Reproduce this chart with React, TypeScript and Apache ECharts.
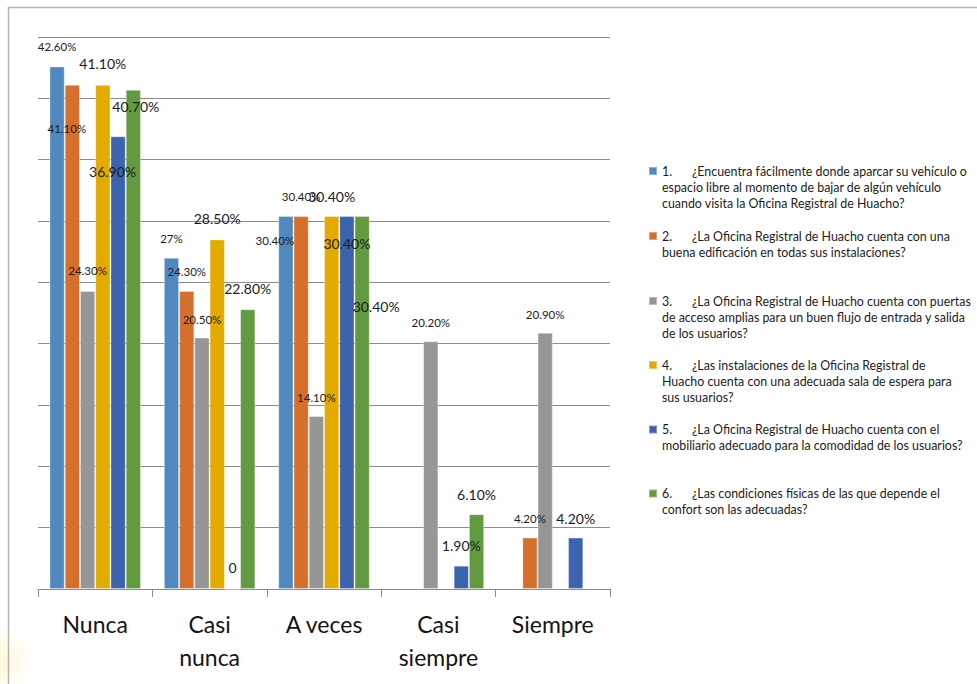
import React, { useEffect, useRef } from "react";
import * as echarts from "echarts";

// Response categories (x axis)
const categories = ["Nunca", "Casi\nnunca", "A veces", "Casi\nsiempre", "Siempre"];

// Percentage of answers per question and category (null = no bar)
const q1 = [42.6, 27, 30.4, null, null];
const q2 = [41.1, 24.3, 30.4, null, 4.2];
const q3 = [24.3, 20.5, 14.1, 20.2, 20.9];
const q4 = [41.1, 28.5, 30.4, null, null];
const q5 = [36.9, 0, 30.4, 1.9, 4.2];
const q6 = [40.7, 22.8, 30.4, 6.1, null];
const seriesValues = [q1, q2, q3, q4, q5, q6];

// Survey questions, already broken into legend lines
const questions = [
  [
    "¿Encuentra fácilmente donde aparcar su vehículo o",
    "espacio libre al momento de bajar de algún vehículo",
    "cuando visita la Oficina Registral de Huacho?",
  ],
  [
    "¿La Oficina Registral de Huacho cuenta con una",
    "buena edificación en todas sus instalaciones?",
  ],
  [
    "¿La Oficina Registral de Huacho cuenta con puertas",
    "de acceso amplias para un buen flujo de entrada y salida",
    "de los usuarios?",
  ],
  [
    "¿Las instalaciones de la Oficina Registral de",
    "Huacho cuenta con una adecuada sala de espera para",
    "sus usuarios?",
  ],
  [
    "¿La Oficina Registral de Huacho cuenta con el",
    "mobiliario adecuado para la comodidad de los usuarios?",
  ],
  [
    "¿Las condiciones físicas de las que depende el",
    "confort son las adecuadas?",
  ],
];

// Y axis scale
const yMin = 0;
const yMax = 45;
const yStep = 5;

// ---- styling / layout ----
const colors = ["#4f89bf", "#d5702c", "#969696", "#e3aa00", "#3c63ae", "#629b3f"];
const FONT = "Lato, 'Open Sans', sans-serif";
const labelFontSizes = [11.5, 11.5, 11.5, 14, 14, 14];

// label centre offset [dx, dy] from the top-centre of each bar
const labelOffsets: number[][][] = [
  [[0, -20], [0, -19], [-11, 24.5], [0, -19], [0, -19]],
  [[-5.5, 43.5], [0, -19.5], [0, -20], [0, -19], [0, -18.5]],
  [[0, -20], [0, -18.5], [0, -19], [0, -19], [0, -18.5]],
  [[0, -21], [0, -20.5], [0, -20], [0, -20], [0, -20]],
  [[-5.5, 35.5], [0, -21], [0, 27], [0, -20], [0, -18.5]],
  [[2.5, 16.5], [0, -20.5], [14, 90], [0, -20], [0, -20]],
];

// centre y of the first text line of each legend entry
const legendLineY = [171, 236, 301, 365, 429.5, 493.5];
const LEGEND_LH = 16;
const LEGEND_FS = 12.4;

const seriesName = (i: number) => `${i + 1}. ${questions[i].join(" ")}`;

const fmtPct = (v: number) =>
  v === 0 ? "0" : Number.isInteger(v) ? `${v}%` : `${v.toFixed(2)}%`;

export default function App() {
  const ref = useRef<HTMLDivElement>(null);

  useEffect(() => {
    if (!ref.current) return;
    const chart = echarts.init(ref.current, undefined, { renderer: "svg" });

    const series = seriesValues.map((vals, i) => ({
      name: seriesName(i),
      type: "bar",
      barGap: "0%",
      barCategoryGap: "20%",
      itemStyle: {
        color: colors[i],
        borderColor: "rgba(255,255,255,0.35)",
        borderWidth: 1,
      },
      label: {
        show: true,
        position: "top",
        distance: 0,
        align: "center",
        verticalAlign: "middle",
        fontFamily: FONT,
        fontSize: labelFontSizes[i],
        color: "#1c1c1c",
        formatter: (p: any) => fmtPct(p.value as number),
      },
      data: vals.map((v, j) =>
        v === null
          ? "-"
          : { value: v, label: { offset: labelOffsets[i][j] } }
      ),
    }));

    const legends = questions.map((lines, i) => {
      const n = lines.length;
      return {
        data: [seriesName(i)],
        left: 648,
        top: legendLineY[i] - ((2 * n - 1) * LEGEND_LH) / 2,
        orient: "vertical",
        padding: 0,
        icon: "rect",
        itemWidth: 8,
        itemHeight: 8,
        selectedMode: false,
        formatter: () => `{n|${i + 1}.}` + lines.join("\n"),
        textStyle: {
          fontFamily: FONT,
          fontSize: LEGEND_FS,
          lineHeight: LEGEND_LH,
          color: "#1c1c1c",
          backgroundColor: "transparent",
          padding: [(n - 1) * LEGEND_LH, 0, 0, 0],
          rich: {
            n: {
              width: 30,
              fontFamily: FONT,
              fontSize: LEGEND_FS,
              lineHeight: LEGEND_LH,
              color: "#1c1c1c",
            },
          },
        },
      };
    });

    chart.setOption({
      animation: false,
      backgroundColor: "#ffffff",
      textStyle: { fontFamily: FONT },
      grid: { left: 38, top: 37, right: 367, bottom: 95, containLabel: false },
      xAxis: {
        type: "category",
        data: categories,
        axisLine: { show: true, lineStyle: { color: "#8c8c8c", width: 1 } },
        axisTick: { show: true, length: 8, lineStyle: { color: "#8c8c8c" } },
        axisLabel: {
          fontFamily: FONT,
          fontSize: 23,
          lineHeight: 33,
          margin: 18,
          color: "#141414",
          interval: 0,
        },
      },
      yAxis: {
        type: "value",
        min: yMin,
        max: yMax,
        interval: yStep,
        axisLabel: { show: false },
        axisLine: { show: false },
        axisTick: { show: false },
        splitLine: { lineStyle: { color: "#8c8c8c", width: 1 } },
      },
      legend: legends,
      graphic: [
        {
          type: "circle",
          shape: { cx: 0, cy: 660, r: 34 },
          silent: true,
          z: -10,
          style: {
            fill: {
              type: "radial",
              x: 0.5,
              y: 0.5,
              r: 0.5,
              colorStops: [
                { offset: 0, color: "rgba(255,232,140,0.35)" },
                { offset: 1, color: "rgba(255,232,140,0)" },
              ],
            },
          },
        },
        {
          type: "rect",
          shape: { x: 8.5, y: 7.5, width: 1000, height: 700 },
          silent: true,
          z: -5,
          style: { fill: "none", stroke: "#b4b4b4", lineWidth: 1.5 },
        },
      ],
      series,
    });

    return () => chart.dispose();
  }, []);

  return (
    <div
      ref={ref}
      style={{ position: "absolute", left: 0, top: 0, width: 977, height: 684 }}
    />
  );
}
